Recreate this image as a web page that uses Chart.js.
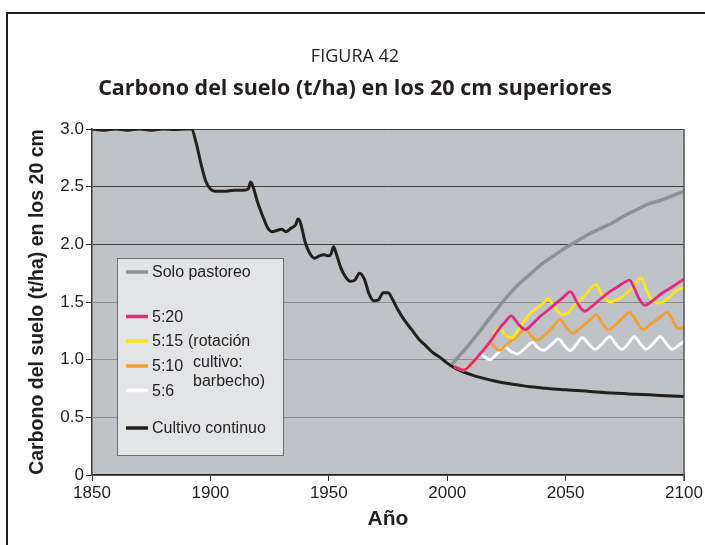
<!DOCTYPE html>
<html>
<head>
<meta charset="utf-8">
<script src="https://cdn.jsdelivr.net/npm/chart.js@4/dist/chart.umd.min.js"></script>
<style>
  body { margin: 0; background: #fff; }
  canvas { display: block; }
</style>
</head>
<body>
<canvas id="grafico" width="705" height="545"></canvas>
<script>
// ---------- datos ----------
const anosCultivo = [1850,1855,1860,1865,1870,1875,1880,1885,1890,1892,1894,1896,1898,1900,1902,1906,1910,1914,1916,1917,1918,1920,1922,1924,1926,1928,1930,1932,1934,1936,1937,1938,1940,1942,1944,1946,1948,1950,1951,1952,1953,1955,1957,1959,1961,1963,1965,1967,1969,1971,1973,1975,1977,1979,1982,1985,1988,1991,1994,1997,2000,2003,2006,2010,2015,2020,2025,2030,2035,2040,2045,2050,2060,2070,2080,2090,2100];
const cultivoContinuo = [3.0,2.99,3.0,2.99,3.0,2.99,3.0,2.995,3.0,3.0,2.88,2.70,2.55,2.48,2.46,2.46,2.47,2.47,2.48,2.54,2.50,2.36,2.25,2.15,2.11,2.12,2.13,2.11,2.14,2.17,2.22,2.19,2.02,1.92,1.88,1.90,1.91,1.90,1.92,1.98,1.93,1.80,1.72,1.68,1.69,1.75,1.70,1.57,1.51,1.52,1.58,1.58,1.52,1.44,1.34,1.26,1.18,1.12,1.06,1.02,0.97,0.93,0.90,0.87,0.84,0.815,0.795,0.78,0.765,0.755,0.745,0.74,0.725,0.71,0.70,0.69,0.68];

const anosPastoreo = [2002,2005,2010,2015,2020,2025,2030,2035,2040,2045,2050,2055,2060,2065,2070,2075,2080,2085,2090,2095,2100];
const soloPastoreo = [0.96,1.03,1.15,1.28,1.41,1.54,1.65,1.74,1.83,1.90,1.97,2.03,2.09,2.14,2.19,2.25,2.30,2.35,2.38,2.42,2.46];

const anos520 = [2003,2007,2010,2013,2016,2019,2022,2025,2027,2030,2033,2036,2039,2042,2046,2049,2052,2055,2058,2061,2065,2068,2071,2074,2077,2079,2081,2083.5,2086,2091,2095,2100];
const rot520 = [0.94,0.91,0.96,1.03,1.10,1.18,1.27,1.34,1.38,1.31,1.26,1.31,1.37,1.42,1.49,1.54,1.59,1.49,1.42,1.46,1.53,1.58,1.62,1.66,1.69,1.62,1.53,1.47,1.50,1.58,1.63,1.70];

const anos515 = [2003,2007,2010,2013,2016,2019,2022,2024,2025.5,2027.4,2030,2035,2040.5,2042.6,2045.5,2048.5,2051.3,2053,2055,2057.4,2059.5,2063,2065.4,2068.7,2071.6,2074,2076.4,2078.5,2082,2084,2086.5,2088.6,2091,2094,2097,2100];
const rot515 = [0.94,0.91,0.96,1.03,1.10,1.18,1.28,1.23,1.20,1.19,1.26,1.40,1.49,1.53,1.45,1.39,1.41,1.46,1.49,1.54,1.59,1.65,1.56,1.50,1.52,1.545,1.59,1.63,1.71,1.61,1.52,1.49,1.50,1.545,1.60,1.63];

const anos510 = [2003,2007,2010,2013,2016,2018,2020,2022,2025,2030,2033,2035,2038,2041,2045,2047.6,2050,2053,2056,2060,2063,2065,2068,2071,2074,2077,2080,2082.7,2086,2090,2093,2095.5,2097.5,2100];
const rot510 = [0.94,0.91,0.96,1.03,1.10,1.15,1.11,1.08,1.13,1.21,1.27,1.22,1.17,1.21,1.29,1.35,1.29,1.23,1.27,1.34,1.39,1.33,1.26,1.30,1.36,1.41,1.33,1.26,1.31,1.37,1.41,1.33,1.27,1.28];

const anos56 = [2007,2010.5,2014,2016,2018,2021,2024.5,2027,2029.5,2033,2036,2038,2040.5,2044,2047,2049.5,2052,2054.5,2057,2060,2062.5,2065.5,2068.7,2071,2073.8,2076.5,2079,2081.5,2084,2087,2090,2092.5,2095,2097.5,2100];
const rot56 = [0.91,0.97,1.05,1.02,1.00,1.05,1.11,1.07,1.05,1.10,1.15,1.11,1.08,1.13,1.18,1.12,1.08,1.13,1.19,1.13,1.09,1.14,1.20,1.14,1.09,1.14,1.20,1.14,1.09,1.14,1.20,1.14,1.09,1.12,1.16];

const ticksX = [1850, 1900, 1950, 2000, 2050, 2100];
const ticksY = [0, 0.5, 1.0, 1.5, 2.0, 2.5, 3.0];

// ---------- helpers ----------
function puntos(anos, valores) {
  return anos.map((a, i) => ({ x: a, y: valores[i] }));
}

function serie(label, anos, valores, color, grosor) {
  return {
    label: label,
    data: puntos(anos, valores),
    borderColor: color,
    backgroundColor: color,
    borderWidth: grosor,
    pointRadius: 0,
    cubicInterpolationMode: 'monotone',
    fill: false
  };
}

const fuente = "'Liberation Sans', Arial, sans-serif";
const tinta = '#231f20';

// fondo gris del área de trazado y marco de la figura
const fondo = {
  id: 'fondo',
  beforeDraw(chart) {
    const c = chart.ctx;
    const a = chart.chartArea;
    c.save();
    c.fillStyle = '#bfc3c8';
    c.fillRect(a.left, a.top, a.right - a.left, a.bottom - a.top);
    c.strokeStyle = '#231f20';
    c.lineWidth = 2;
    c.strokeRect(7, 13, 800, 800);
    c.restore();
  },
  afterDatasetsDraw(chart) {
    const c = chart.ctx;
    const a = chart.chartArea;
    c.save();
    c.strokeStyle = '#555';
    c.lineWidth = 1.5;
    c.beginPath();
    c.moveTo(a.right, a.top);
    c.lineTo(a.right, a.bottom + 6);
    c.stroke();
    c.restore();
  }
};

// leyenda dibujada dentro del gráfico
const leyenda = {
  id: 'leyenda',
  afterDatasetsDraw(chart) {
    const c = chart.ctx;
    const a = chart.chartArea;
    const x0 = a.left + 25, y0 = a.top + 129;
    const filas = [14, 58.5, 83, 108, 132.5, 170];
    c.save();
    c.fillStyle = '#e3e4e6';
    c.fillRect(x0, y0, 166, 197);
    c.strokeStyle = '#6d6e71';
    c.lineWidth = 1;
    c.strokeRect(x0 + 0.5, y0 + 0.5, 166, 197);
    c.font = '16px ' + fuente;
    c.textBaseline = 'middle';
    chart.data.datasets.forEach((ds, i) => {
      const y = y0 + filas[i];
      c.strokeStyle = ds.borderColor;
      c.lineWidth = 3.5;
      c.beginPath();
      c.moveTo(x0 + 9, y);
      c.lineTo(x0 + 31, y);
      c.stroke();
      c.fillStyle = tinta;
      c.fillText(ds.label, x0 + 35, y + 1);
    });
    c.fillText('(rotación', x0 + 71, y0 + 84);
    c.fillText('cultivo:', x0 + 76, y0 + 105);
    c.fillText('barbecho)', x0 + 76, y0 + 124);
    c.restore();
  }
};

const ctx = document.getElementById('grafico').getContext('2d');
const grafico = new Chart(ctx, {
  type: 'line',
  data: {
    datasets: [
      serie('Solo pastoreo', anosPastoreo, soloPastoreo, '#8e9195', 3.5),
      serie('5:20', anos520, rot520, '#e2297f', 2.8),
      serie('5:15', anos515, rot515, '#fbe51c', 2.8),
      serie('5:10', anos510, rot510, '#f2a230', 2.8),
      serie('5:6', anos56, rot56, '#ffffff', 2.8),
      serie('Cultivo continuo', anosCultivo, cultivoContinuo, '#231f1c', 3)
    ]
  },
  options: {
    responsive: false,
    animation: false,
    layout: { padding: { top: 46, left: 26, right: 21, bottom: 0 } },
    plugins: {
      legend: { display: false },
      tooltip: { enabled: false },
      title: {
        display: true,
        text: 'FIGURA 42',
        color: tinta,
        font: { family: "'Open Sans', sans-serif", size: 18, weight: 'normal' },
        padding: { top: 0, bottom: 8 }
      },
      subtitle: {
        display: true,
        text: 'Carbono del suelo (t/ha) en los 20 cm superiores',
        color: tinta,
        font: { family: "'Open Sans', sans-serif", size: 21.5, weight: 'bold' },
        padding: { top: 0, bottom: 27.6 }
      }
    },
    scales: {
      x: {
        type: 'linear',
        min: 1850,
        max: 2100,
        afterFit: s => { s.height = 70; },
        afterBuildTicks: s => { s.ticks = ticksX.map(v => ({ value: v })); },
        ticks: {
          color: tinta,
          font: { family: fuente, size: 17 },
          padding: 2,
          maxRotation: 0,
          callback: v => String(v)
        },
        grid: { drawOnChartArea: false, tickLength: 6, color: '#333', lineWidth: 1 },
        border: { color: '#231f20', width: 1.5 },
        title: {
          display: true,
          text: 'Año',
          color: tinta,
          font: { family: fuente, size: 21, weight: 'bold' },
          padding: { top: 0, bottom: 13 }
        }
      },
      y: {
        min: 0,
        max: 3,
        afterFit: s => { s.width = 66; },
        afterBuildTicks: s => { s.ticks = ticksY.map(v => ({ value: v })); },
        ticks: {
          color: tinta,
          font: { family: fuente, size: 17 },
          padding: 2,
          callback: v => (v === 0 ? '0' : v.toFixed(1))
        },
        grid: {
          tickLength: 6,
          tickColor: '#333',
          lineWidth: 1,
          color: c => (c.tick && c.tick.value >= 2 ? '#3c3c3c' : '#8a8e93')
        },
        border: { color: '#3a3a3a', width: 1.5 },
        title: {
          display: true,
          text: 'Carbono del suelo (t/ha) en los 20 cm',
          color: tinta,
          font: { family: fuente, size: 19.5, weight: 'bold' },
          padding: { top: 0, bottom: 0 }
        }
      }
    }
  },
  plugins: [fondo, leyenda]
});
</script>
</body>
</html>
